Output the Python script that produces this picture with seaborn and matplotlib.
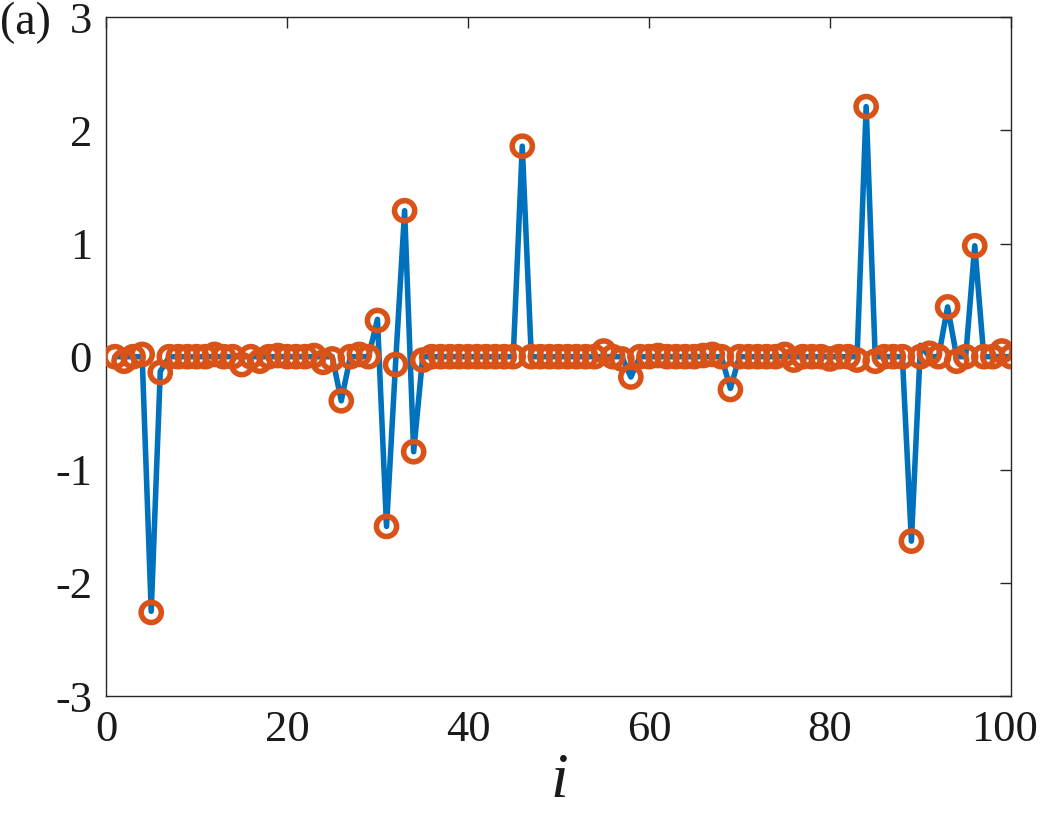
import numpy as np
import pandas as pd
import matplotlib
matplotlib.use("Agg")
import matplotlib.pyplot as plt
import matplotlib.transforms as mtransforms
import seaborn as sns

# index
idx = list(range(1, 101))

# true sparse signal (blue line): nonzero entries
true_pos = [5, 6, 26, 30, 31, 32, 33, 34, 46, 58, 69, 84, 89, 90, 93, 96]
true_val = [-2.25, -0.13, -0.39, 0.33, -1.50, -0.06, 1.29, -0.84, 1.86,
            -0.18, -0.28, 2.21, -1.63, 0.10, 0.44, 0.98]

# estimated signal (orange circles)
est = [0.00, -0.04, 0.00, 0.02, -2.26, -0.14, 0.00, 0.00, 0.00, 0.00,
       0.00, 0.02, 0.00, 0.00, -0.07, 0.00, -0.04, 0.00, 0.01, 0.00,
       0.00, 0.00, 0.01, -0.05, -0.02, -0.39, 0.00, 0.02, 0.00, 0.32,
       -1.50, -0.07, 1.29, -0.84, -0.03, 0.00, 0.00, 0.00, 0.00, 0.00,
       0.00, 0.00, 0.00, 0.00, 0.00, 1.86, 0.00, 0.00, 0.00, 0.00,
       0.00, 0.00, 0.00, 0.00, 0.05, 0.00, -0.02, -0.18, 0.00, 0.00,
       0.01, 0.00, 0.00, 0.00, 0.00, 0.01, 0.02, 0.00, -0.29, 0.00,
       0.00, 0.00, 0.00, 0.00, 0.02, -0.03, 0.00, 0.00, 0.00, -0.02,
       0.00, 0.00, -0.03, 2.21, -0.04, 0.00, 0.00, 0.00, -1.63, 0.00,
       0.03, 0.00, 0.44, -0.04, 0.00, 0.98, 0.00, 0.00, 0.05, 0.00]

xticks = [0, 20, 40, 60, 80, 100]
yticks = [-3, -2, -1, 0, 1, 2, 3]

true_full = [0.0] * 100
for p, v in zip(true_pos, true_val):
    true_full[p - 1] = v

df = pd.DataFrame({"i": idx, "true": true_full, "est": est})

sns.set_style("white")
plt.rcParams['font.family'] = ['Liberation Serif', 'DejaVu Serif']
plt.rcParams['mathtext.fontset'] = 'custom'
plt.rcParams['mathtext.it'] = 'Liberation Serif:italic'

fig = plt.figure(figsize=(10.42, 8.19), dpi=100)
ax = fig.add_axes([0.1017, 0.150, 0.8685, 0.829])

sns.lineplot(data=df, x="i", y="true", ax=ax, color="#0072BD", linewidth=4.0, zorder=2)
sns.scatterplot(data=df, x="i", y="est", ax=ax, marker="o", s=210,
                facecolors="none", edgecolor="#D95319", linewidth=4.0, zorder=3)

ax.set_xlim(0, 100)
ax.set_ylim(-3, 3)
ax.set_xticks(xticks)
ax.set_yticks(yticks)
ax.set_xticklabels([str(t) for t in xticks])
ax.set_yticklabels([str(t) for t in yticks])
ax.tick_params(direction="in", length=8, width=1.0, colors="#262626",
               labelcolor="#1a1a1a", labelsize=32, top=True, right=True, pad=10)
ax.tick_params(axis="x", pad=10)
for s in ax.spines.values():
    s.set_color("#262626")
    s.set_linewidth(1.0)
    s.set_visible(True)

# nudge the last x tick label slightly left so it stays inside the figure
last = ax.get_xticklabels()[-1]
last.set_transform(last.get_transform() +
                   mtransforms.ScaledTranslation(-6 / 100, 0, fig.dpi_scale_trans))

ax.set_ylabel("")
ax.set_xlabel("$i$", fontsize=46, labelpad=2, color="#1a1a1a")
fig.text(0.0, 0.972, "(a)", fontsize=33, ha="left", va="center", color="#1a1a1a")

fig.savefig("out.png", dpi=100)
